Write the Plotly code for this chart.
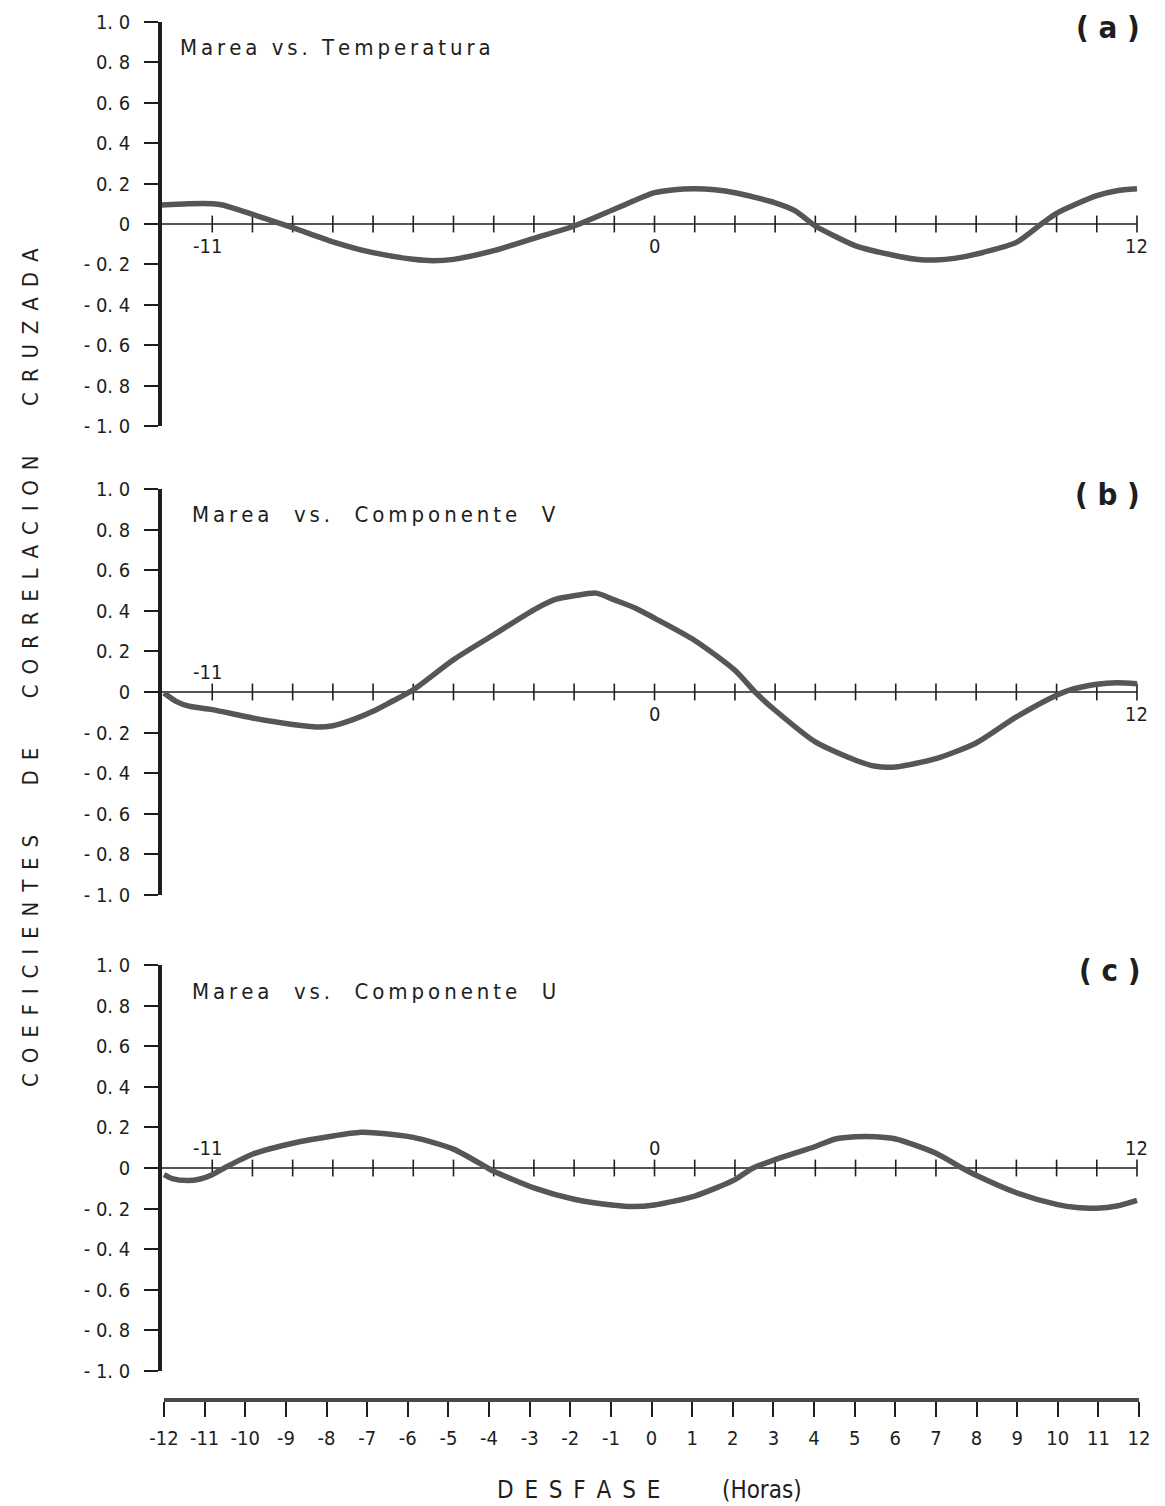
import plotly.graph_objects as go

W, H = 1165, 1506

# ---------------- data ----------------
lag_a = [-12.25, -11.6, -11.0, -10.75, -10.0, -9.0, -8.0, -7.0, -6.0, -5.5, -5.0, -4.0, -3.0, -2.0, -1.0,
         0.0, 0.5, 1.0, 1.5, 2.0, 3.0, 3.5, 4.0, 4.5, 5.0, 6.0, 6.5, 7.0, 7.5, 8.0, 9.0, 9.62, 10.0, 11.0, 11.5, 12.0]
corr_a = [0.094, 0.10, 0.10, 0.094, 0.048, -0.018, -0.088, -0.142, -0.175, -0.182, -0.175, -0.132, -0.071,
          -0.01, 0.073, 0.155, 0.17, 0.174, 0.169, 0.155, 0.105, 0.065, -0.01, -0.062, -0.108, -0.157, -0.174, -0.178,
          -0.169, -0.149, -0.091, 0.0, 0.053, 0.14, 0.165, 0.174]

lag_b = [-12.2, -11.9, -11.58, -11.0, -10.0, -9.0, -8.4, -8.0, -7.5, -7.0, -6.6, -6.0, -5.0, -4.0, -3.0, -2.45, -2.0,
         -1.45, -1.0, -0.47, 0.0, 1.0, 2.0, 2.5, 3.0, 4.0, 5.0, 5.5, 6.0, 7.0, 8.0, 9.0, 10.0, 10.3, 11.0, 11.5, 12.0]
corr_b = [-0.005, -0.046, -0.07, -0.087, -0.128, -0.16, -0.172, -0.166, -0.136, -0.095, -0.054, 0.011, 0.159, 0.282,
          0.405, 0.457, 0.474, 0.487, 0.454, 0.413, 0.364, 0.254, 0.107, 0.0, -0.09, -0.246, -0.336, -0.366, -0.369,
          -0.328, -0.251, -0.123, -0.016, 0.008, 0.038, 0.046, 0.041]

lag_c = [-12.2, -12.0, -11.6, -11.3, -11.0, -10.7, -10.0, -9.0, -8.0, -7.3, -7.0, -6.0, -5.0, -4.15, -4.0, -3.0, -2.0,
         -1.0, -0.55, 0.0, 1.0, 2.0, 2.45, 3.0, 4.0, 4.5, 5.0, 5.5, 6.0, 7.0, 7.65, 8.0, 9.0, 10.0, 10.5, 11.0, 11.5, 12.0]
corr_c = [-0.033, -0.052, -0.062, -0.054, -0.033, 0.0, 0.068, 0.122, 0.158, 0.176, 0.174, 0.151, 0.093, 0.0, -0.016,
          -0.098, -0.154, -0.184, -0.19, -0.182, -0.138, -0.057, 0.0, 0.041, 0.106, 0.143, 0.154, 0.154, 0.143, 0.073,
          0.0, -0.036, -0.122, -0.179, -0.195, -0.198, -0.187, -0.159]

panel_titles = ["Marea vs. Temperatura", "Marea  vs.  Componente  V", "Marea  vs.  Componente  U"]
panel_tags = ["( a )", "( b )", "( c )"]
hour_ticks = list(range(-11, 13))
y_tickvals = [1.0, 0.8, 0.6, 0.4, 0.2, 0.0, -0.2, -0.4, -0.6, -0.8, -1.0]
y_ticktext = ["1. 0", "0. 8", "0. 6", "0. 4", "0. 2", "0", "- 0. 2", "- 0. 4", "- 0. 6", "- 0. 8", "- 1. 0"]
x_tickvals = list(range(-12, 13))
x_ticktext = [str(v) for v in x_tickvals]
zero_labels = [
    [(-11, "below"), (0, "below"), (12, "below")],
    [(-11, "above"), (0, "below"), (12, "below")],
    [(-11, "above"), (0, "above"), (12, "above")],
]

# ---------------- layout helpers ----------------
def px_x(p):
    return p / W

def px_y(p):
    return 1 - p / H

def spaced(s, sep="\u2009"):
    return sep.join(s)

FONT = "DejaVu Sans Condensed, Liberation Sans Narrow, DejaVu Sans, sans-serif"
CURVE = "#565656"
INK = "#1e1e1e"

panels_px = [(22, 426), (489, 895), (965, 1371)]
x_dom = [px_x(162), px_x(1139)]
x_rng = [-12.25, 12.05]

fig = go.Figure()
lags = [lag_a, lag_b, lag_c]
corrs = [corr_a, corr_b, corr_c]

annotations = []
for i in range(3):
    n = i + 1
    xa = "x" if n == 1 else f"x{n}"
    ya = "y" if n == 1 else f"y{n}"
    fig.add_trace(go.Scatter(x=[x_rng[0], 12], y=[0, 0], mode="lines", line=dict(color=INK, width=1.5),
                             xaxis=xa, yaxis=ya, hoverinfo="skip", showlegend=False))
    fig.add_trace(go.Scatter(x=hour_ticks, y=[0] * len(hour_ticks), mode="markers",
                             marker=dict(symbol="line-ns", size=12, line=dict(color=INK, width=1.6)),
                             xaxis=xa, yaxis=ya, hoverinfo="skip", showlegend=False))
    fig.add_trace(go.Scatter(x=lags[i], y=corrs[i], mode="lines",
                             line=dict(color=CURVE, width=5.5, shape="spline", smoothing=0.7),
                             xaxis=xa, yaxis=ya, showlegend=False))
    top, bot = panels_px[i]
    fig.update_layout(**{
        f"xaxis{'' if n == 1 else n}": dict(domain=x_dom, range=x_rng, visible=False, anchor=ya,
                                             automargin=False),
        f"yaxis{'' if n == 1 else n}": dict(
            domain=[px_y(bot), px_y(top)], range=[-1.0, 1.0], anchor=xa, automargin=False,
            showline=True, linewidth=3.5, linecolor=INK, showgrid=False, zeroline=False,
            ticks="outside", ticklen=14, tickwidth=1.5, tickcolor=INK,
            tickvals=y_tickvals, ticktext=y_ticktext, ticklabelstandoff=10,
            tickfont=dict(family=FONT, size=20, color=INK)),
    })
    for val, pos in zero_labels[i]:
        annotations.append(dict(x=val, y=0, xref=xa, yref=ya, text=str(val), showarrow=False,
                                xshift=-5 if val == -11 else 0,
                                font=dict(family=FONT, size=20, color=INK),
                                yanchor="top" if pos == "below" else "bottom",
                                yshift=-8 if pos == "below" else 6))
    annotations.append(dict(x=px_x(178 if i == 0 else 190), y=px_y(top + 26), xref="paper", yref="paper",
                            text=spaced(panel_titles[i]), showarrow=False, xanchor="left", yanchor="middle",
                            font=dict(family=FONT, size=22, color=INK)))
    annotations.append(dict(x=px_x(1142), y=px_y(top + 5), xref="paper", yref="paper",
                            text="<b>" + panel_tags[i] + "</b>", showarrow=False, xanchor="right",
                            yanchor="middle", font=dict(family=FONT, size=31, color=INK)))

# bottom lag axis
fig.add_trace(go.Scatter(x=[-12, 12], y=[0, 0], mode="markers", marker=dict(opacity=0),
                         xaxis="x4", yaxis="y4", hoverinfo="skip", showlegend=False))
fig.update_layout(
    xaxis4=dict(domain=[px_x(164), px_x(1139)], range=[-12, 12], anchor="y4", side="bottom", automargin=False,
                showline=True, linewidth=4, linecolor="#4a4a4a", showgrid=False, zeroline=False,
                ticks="outside", ticklen=15, tickwidth=1.5, tickcolor=INK,
                tickvals=x_tickvals, ticktext=x_ticktext, ticklabelstandoff=4,
                tickfont=dict(family=FONT, size=20, color=INK)),
    yaxis4=dict(domain=[px_y(1398), px_y(1390)], range=[0, 1], anchor="x4", visible=False, automargin=False),
)

annotations.append(dict(x=px_x(650), y=px_y(1490), xref="paper", yref="paper", yanchor="middle",
                        text="D\u2002E\u2002S\u2002F\u2002A\u2002S\u2002E &nbsp; &nbsp; &nbsp; &nbsp; (Horas)",
                        showarrow=False, font=dict(family=FONT, size=24, color=INK)))
sep = "\u2002"
gap = "\u2003\u2003\u2002"
ylab = gap.join(sep.join(w) for w in ["COEFICIENTES", "DE", "CORRELACION", "CRUZADA"])
annotations.append(dict(x=px_x(30), y=px_y(668), xref="paper", yref="paper", text=ylab, textangle=-90,
                        xanchor="center", yanchor="middle",
                        showarrow=False, font=dict(family=FONT, size=22, color=INK)))

fig.update_layout(width=W, height=H, margin=dict(l=0, r=0, t=0, b=0, pad=0, autoexpand=False),
                  paper_bgcolor="white", plot_bgcolor="white", annotations=annotations)

fig.write_html("out.html", post_script="document.body.style.margin='0';document.body.style.padding='0';")
